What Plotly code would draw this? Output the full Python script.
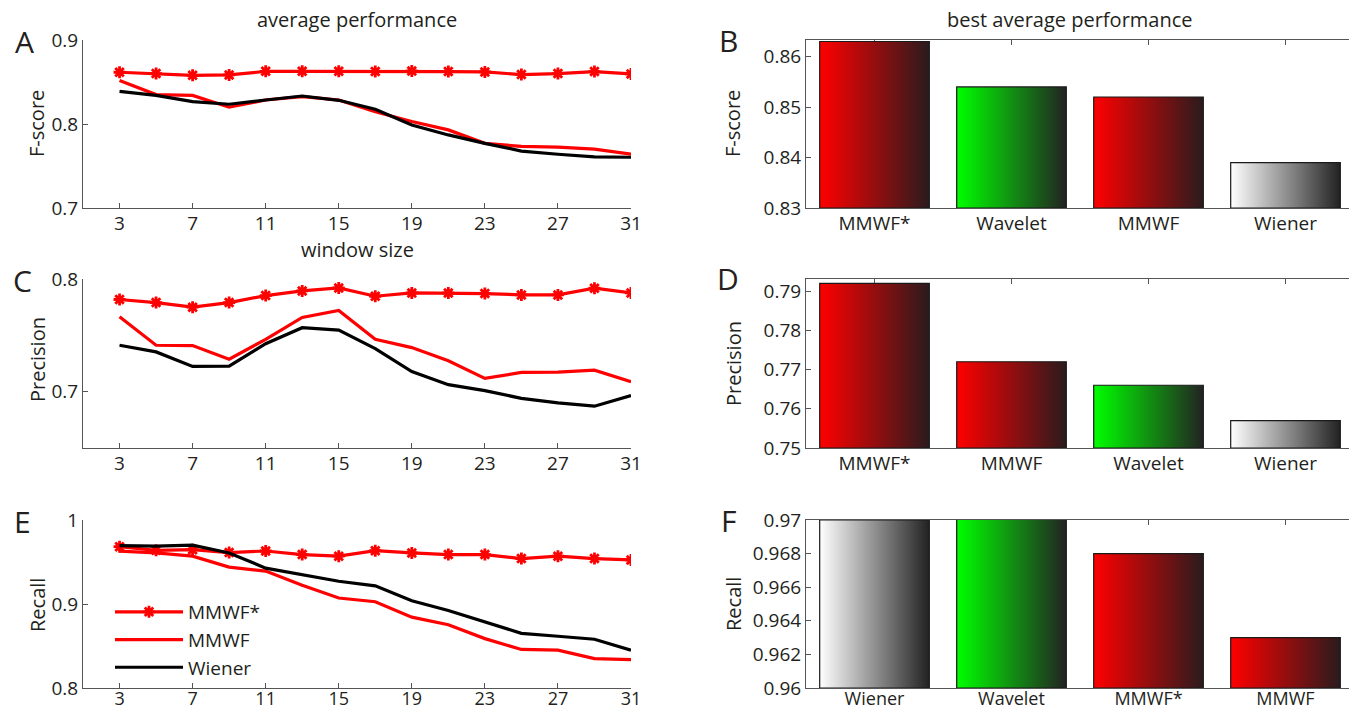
import plotly.graph_objects as go

# ---------------- data ----------------
window_size = [3, 5, 7, 9, 11, 13, 15, 17, 19, 21, 23, 25, 27, 29, 31]

fscore_mmwf_star = [0.8616, 0.8600, 0.8580, 0.8584, 0.8627, 0.8627, 0.8627, 0.8624, 0.8631, 0.8624, 0.8620, 0.8588, 0.8600, 0.8624, 0.8596]
fscore_mmwf = [0.8518, 0.8350, 0.8340, 0.8200, 0.8286, 0.8325, 0.8286, 0.8145, 0.8030, 0.7930, 0.7770, 0.7733, 0.7725, 0.7700, 0.7640]
fscore_wiener = [0.8388, 0.8340, 0.8267, 0.8235, 0.8286, 0.8333, 0.8282, 0.8176, 0.7988, 0.7870, 0.7770, 0.7678, 0.7640, 0.7608, 0.7604]

prec_mmwf_star = [0.7818, 0.7791, 0.7750, 0.7791, 0.7853, 0.7894, 0.7921, 0.7847, 0.7876, 0.7876, 0.7871, 0.7859, 0.7859, 0.7918, 0.7876]
prec_mmwf = [0.7665, 0.7412, 0.7409, 0.7288, 0.7465, 0.7659, 0.7721, 0.7465, 0.7391, 0.7274, 0.7118, 0.7171, 0.7174, 0.7191, 0.7088]
prec_wiener = [0.7412, 0.7353, 0.7224, 0.7226, 0.7426, 0.7568, 0.7547, 0.7382, 0.7179, 0.7062, 0.7009, 0.6941, 0.6900, 0.6871, 0.6965]

recall_mmwf_star = [0.9682, 0.9639, 0.9647, 0.9612, 0.9631, 0.9588, 0.9569, 0.9635, 0.9608, 0.9588, 0.9588, 0.9541, 0.9569, 0.9541, 0.9525]
recall_mmwf = [0.9630, 0.9608, 0.9569, 0.9439, 0.9392, 0.9224, 0.9071, 0.9027, 0.8843, 0.8753, 0.8588, 0.8459, 0.8451, 0.8349, 0.8337]
recall_wiener = [0.9694, 0.9690, 0.9700, 0.9608, 0.9427, 0.9353, 0.9271, 0.9216, 0.9039, 0.8922, 0.8784, 0.8651, 0.8616, 0.8580, 0.8451]

best_f_methods = ["MMWF*", "Wavelet", "MMWF", "Wiener"]
best_f_values = [0.863, 0.854, 0.852, 0.839]
best_p_methods = ["MMWF*", "MMWF", "Wavelet", "Wiener"]
best_p_values = [0.792, 0.772, 0.766, 0.757]
best_r_methods = ["Wiener", "Wavelet", "MMWF*", "MMWF"]
best_r_values = [0.9700, 0.9710, 0.968, 0.963]

x_ticks = [3, 7, 11, 15, 19, 23, 27, 31]

# ---------------- styling ----------------
FONT = "Open Sans"
TXT = "#231f20"
AXC = "#555555"
RED = "#ff0000"
BLACK = "#000000"
GRAD = {
    "MMWF*": ["#ff0000", "#2a1b1d"],
    "MMWF": ["#ff0000", "#2a1b1d"],
    "Wavelet": ["#00ff00", "#222222"],
    "Wiener": ["#ffffff", "#222222"],
}

W, H = 1349, 712


def px_x(p):
    return p / W


def px_y(p):
    return 1 - p / H


left_dom = [px_x(83), px_x(631)]
right_dom = [px_x(806), 1.0]
rows = [[px_y(208), px_y(40)], [px_y(448), px_y(279)], [px_y(688), px_y(520)]]
standoffs = [-2, -2, -6]
xfont_sizes = [19, 19, 18]

y_ranges = {
    "y": [0.7, 0.9], "y3": [0.65, 0.8], "y5": [0.8, 1.0],
    "y2": [0.83, 0.8633], "y4": [0.75, 0.7931], "y6": [0.96, 0.97],
}

fig = go.Figure()

line_sets = [
    (fscore_mmwf_star, fscore_mmwf, fscore_wiener, "x", "y"),
    (prec_mmwf_star, prec_mmwf, prec_wiener, "x3", "y3"),
    (recall_mmwf_star, recall_mmwf, recall_wiener, "x5", "y5"),
]
for k, (s, m, w, xa, ya) in enumerate(line_sets):
    show = k == 2
    fig.add_trace(go.Scatter(x=window_size, y=s, xaxis=xa, yaxis=ya, mode="lines+markers",
                             name="MMWF*", showlegend=show,
                             line=dict(color=RED, width=3.2),
                             marker=dict(symbol="asterisk-open", size=10, color=RED,
                                         line=dict(color=RED, width=2.8))))
    fig.add_trace(go.Scatter(x=window_size, y=m, xaxis=xa, yaxis=ya, mode="lines",
                             name="MMWF", showlegend=show,
                             line=dict(color=RED, width=3.2)))
    fig.add_trace(go.Scatter(x=window_size, y=w, xaxis=xa, yaxis=ya, mode="lines",
                             name="Wiener", showlegend=show,
                             line=dict(color=BLACK, width=3.2)))

bar_sets = [
    (best_f_methods, best_f_values, "x2", "y2"),
    (best_p_methods, best_p_values, "x4", "y4"),
    (best_r_methods, best_r_values, "x6", "y6"),
]
BAR_W = 0.8
for methods, values, xa, ya in bar_sets:
    base = y_ranges[ya][0]
    for i, (meth, v) in enumerate(zip(methods, values)):
        c = i + 1
        xs = [c - BAR_W / 2, c + BAR_W / 2, c + BAR_W / 2, c - BAR_W / 2, c - BAR_W / 2]
        ys = [base, base, v, v, base]
        fig.add_trace(go.Scatter(x=xs, y=ys, xaxis=xa, yaxis=ya, mode="lines",
                                 fill="toself", showlegend=False, hoverinfo="skip",
                                 fillgradient=dict(type="horizontal",
                                                   colorscale=[[0, GRAD[meth][0]], [1, GRAD[meth][1]]]),
                                 line=dict(color="#1a1a1a", width=1.2)))

tickfont = dict(family=FONT, size=19, color=TXT)
common_axis = dict(showgrid=False, zeroline=False, showline=True, linecolor=AXC, linewidth=1,
                   ticks="inside", ticklen=5, tickcolor=AXC, tickfont=tickfont, automargin=False)

# left line panels
for n, dom, so, fs in zip(["", "3", "5"], rows, standoffs, xfont_sizes):
    fig.layout["xaxis" + n] = dict(common_axis, domain=left_dom, anchor="y" + n, range=[1, 31],
                                   tickvals=x_ticks, ticklabelstandoff=so,
                                   tickfont=dict(family=FONT, size=fs, color=TXT))
fig.layout["yaxis"] = dict(common_axis, domain=rows[0], anchor="x", range=y_ranges["y"],
                           tickvals=[0.7, 0.8, 0.9], ticktext=["0.7", "0.8", "0.9"])
fig.layout["yaxis3"] = dict(common_axis, domain=rows[1], anchor="x3", range=y_ranges["y3"],
                            tickvals=[0.7, 0.8], ticktext=["0.7", "0.8"])
fig.layout["yaxis5"] = dict(common_axis, domain=rows[2], anchor="x5", range=y_ranges["y5"],
                            tickvals=[0.8, 0.9, 1.0], ticktext=["0.8", "0.9", "1"])

# right bar panels
xr = [0.5, 0.5 + (W - 806) / 137.0]
for n, dom, so, fs, (methods, _, _, _) in zip(["2", "4", "6"], rows, standoffs, xfont_sizes, bar_sets):
    fig.layout["xaxis" + n] = dict(common_axis, domain=right_dom, anchor="y" + n, range=xr,
                                   tickvals=[1, 2, 3, 4], ticktext=methods, mirror="ticks",
                                   layer="below traces", ticklabelstandoff=so,
                                   tickfont=dict(family=FONT, size=fs, color=TXT))
fig.layout["yaxis2"] = dict(common_axis, domain=rows[0], anchor="x2", range=y_ranges["y2"],
                            tickvals=[0.83, 0.84, 0.85, 0.86], ticktext=["0.83", "0.84", "0.85", "0.86"])
fig.layout["yaxis4"] = dict(common_axis, domain=rows[1], anchor="x4", range=y_ranges["y4"],
                            tickvals=[0.75, 0.76, 0.77, 0.78, 0.79],
                            ticktext=["0.75", "0.76", "0.77", "0.78", "0.79"])
fig.layout["yaxis6"] = dict(common_axis, domain=rows[2], anchor="x6", range=y_ranges["y6"],
                            tickvals=[0.96, 0.962, 0.964, 0.966, 0.968, 0.97],
                            ticktext=["0.96", "0.962", "0.964", "0.966", "0.968", "0.97"])

ann = []


def add_text(text, x, y, size=18, angle=0, xanchor="center", yanchor="middle"):
    ann.append(dict(text=text, x=px_x(x), y=px_y(y), xref="paper", yref="paper", showarrow=False,
                    font=dict(family=FONT, size=size, color=TXT), textangle=angle,
                    xanchor=xanchor, yanchor=yanchor))


add_text("average performance", 357, 20, 20)
add_text("best average performance", 1070, 20, 20)
add_text("window size", 357, 249, 20)
for t, x, y in [("A", 24, 42), ("B", 728, 40), ("C", 23, 280), ("D", 728, 278), ("E", 23, 521), ("F", 728, 520)]:
    add_text(t, x, y, 30)
for t, x, y in [("F-score", 37, 124), ("Precision", 37, 360), ("Recall", 37, 605),
                ("F-score", 733, 124), ("Precision", 733, 364), ("Recall", 733, 604)]:
    add_text(t, x, y, 20, angle=-90)

fig.update_layout(
    template="none",
    width=W, height=H, margin=dict(l=0, r=0, t=0, b=0, autoexpand=False),
    paper_bgcolor="white", plot_bgcolor="white",
    annotations=ann,
    showlegend=True,
    legend=dict(x=px_x(110), y=px_y(593), xanchor="left", yanchor="top",
                bgcolor="rgba(0,0,0,0)", borderwidth=0, itemwidth=68,
                font=dict(family=FONT, size=19, color=TXT), tracegroupgap=0),
)

fig.write_html("out.html", config={"displayModeBar": False},
               post_script="document.body.style.margin='0px';")
